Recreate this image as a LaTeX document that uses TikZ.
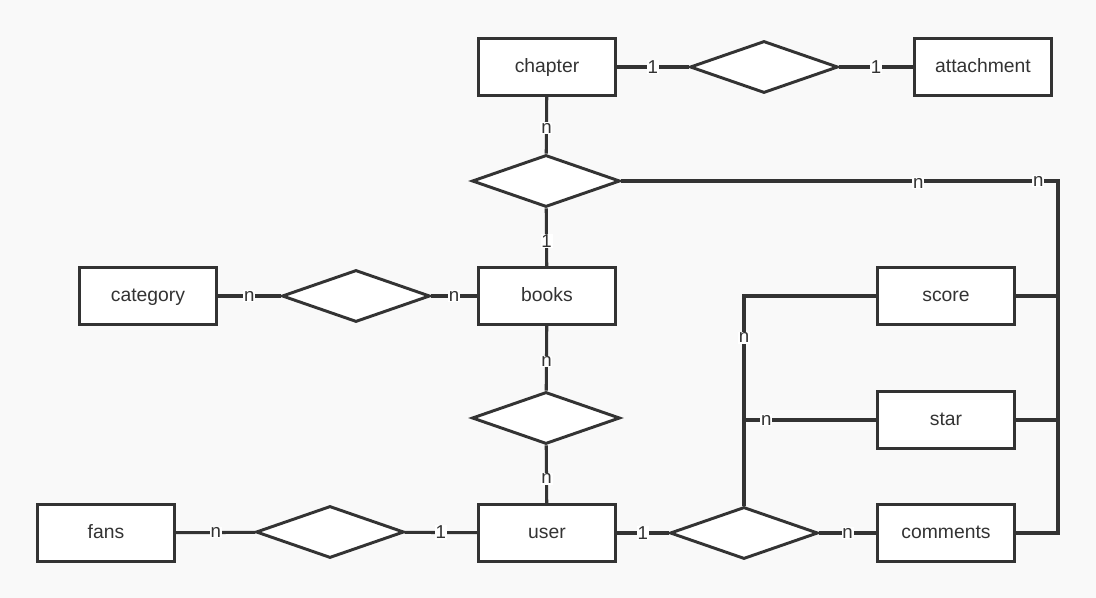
\documentclass[tikz,border=0pt]{standalone}
\usepackage{fontspec}
\setmainfont{Liberation Sans}
\usetikzlibrary{shapes.geometric}
\definecolor{linec}{HTML}{333333}
\definecolor{bgc}{HTML}{F9F9F9}
\tikzset{
  entity/.style={draw=linec, fill=white, line width=2.2pt, minimum width=103pt,
    minimum height=43pt, text=linec, text height=10.5pt, text depth=2.5pt,
    font=\fontsize{14.5}{17}\selectfont},
  relation/.style={draw=linec, fill=white, diamond, aspect=2.85, line width=2.2pt,
    minimum width=111pt, minimum height=39pt, inner sep=0pt},
  card/.style={fill=white, inner sep=0.6pt, text=linec, font=\fontsize{14}{16}\selectfont},
  conn/.style={draw=linec, line width=2.3pt}
}

\begin{document}
\begin{tikzpicture}[x=0.75pt, y=-0.75pt]
                \fill[bgc] (0,0) rectangle (1096,598);
                \useasboundingbox (0,0) rectangle (1096,598);
                \node[entity] (chapter) at (547,67) {chapter};
                \node[entity] (attachment) at (983,67) {attachment};
                \node[entity] (books) at (547,296) {books};
                \node[entity] (category) at (148,296) {category};
                \node[entity] (user) at (547,533) {user};
                \node[entity] (fans) at (106,533) {fans};
                \node[entity] (score) at (946,296) {score};
                \node[entity] (star) at (946,420) {star};
                \node[entity] (comments) at (946,533) {comments};
                \node[relation] (hasAttach) at (764,67) {};
                \node[relation] (hasChapter) at (546,181) {};
                \node[relation] (inCategory) at (356,296) {};
                \node[relation] (reads) at (546,418) {};
                \node[relation] (follows) at (330,532) {};
                \node[relation] (rates) at (744,533) {};
                \coordinate (busTop) at (1058,181);
                \coordinate (tapStar) at (rates.north |- star.west);
                \draw[conn] (chapter) -- node[card]{1} (hasAttach);
                \draw[conn] (hasAttach) -- node[card]{1} (attachment);
                \draw[conn] (chapter) -- node[card, pos=0.55]{n} (hasChapter);
                \draw[conn] (hasChapter) -- node[card, pos=0.57]{1} (books);
                \draw[conn] (category) -- node[card]{n} (inCategory);
                \draw[conn] (inCategory) -- node[card]{n} (books);
                \draw[conn] (books) -- node[card, pos=0.55]{n} (reads);
                \draw[conn] (reads) -- node[card, pos=0.58]{n} (user);
                \draw[conn] (fans) -- node[card]{n} (follows);
                \draw[conn] (follows) -- node[card]{1} (user);
                \draw[conn] (user) -- node[card]{1} (rates);
                \draw[conn] (rates) -- node[card]{n} (comments);
                \draw[conn] (rates) |- node[card, pos=0.4]{n} (score);
                \draw[conn] (tapStar) -- node[card, pos=0.17]{n} (star);
                \draw[conn] (hasChapter) -- node[card, pos=0.68, yshift=-1.5pt]{n}
                  node[card, pos=0.955]{n} (busTop) |- (comments);
                \draw[conn] (score) -- (score -| busTop);
                \draw[conn] (star) -- (star -| busTop);
            \end{tikzpicture}
\end{document}
